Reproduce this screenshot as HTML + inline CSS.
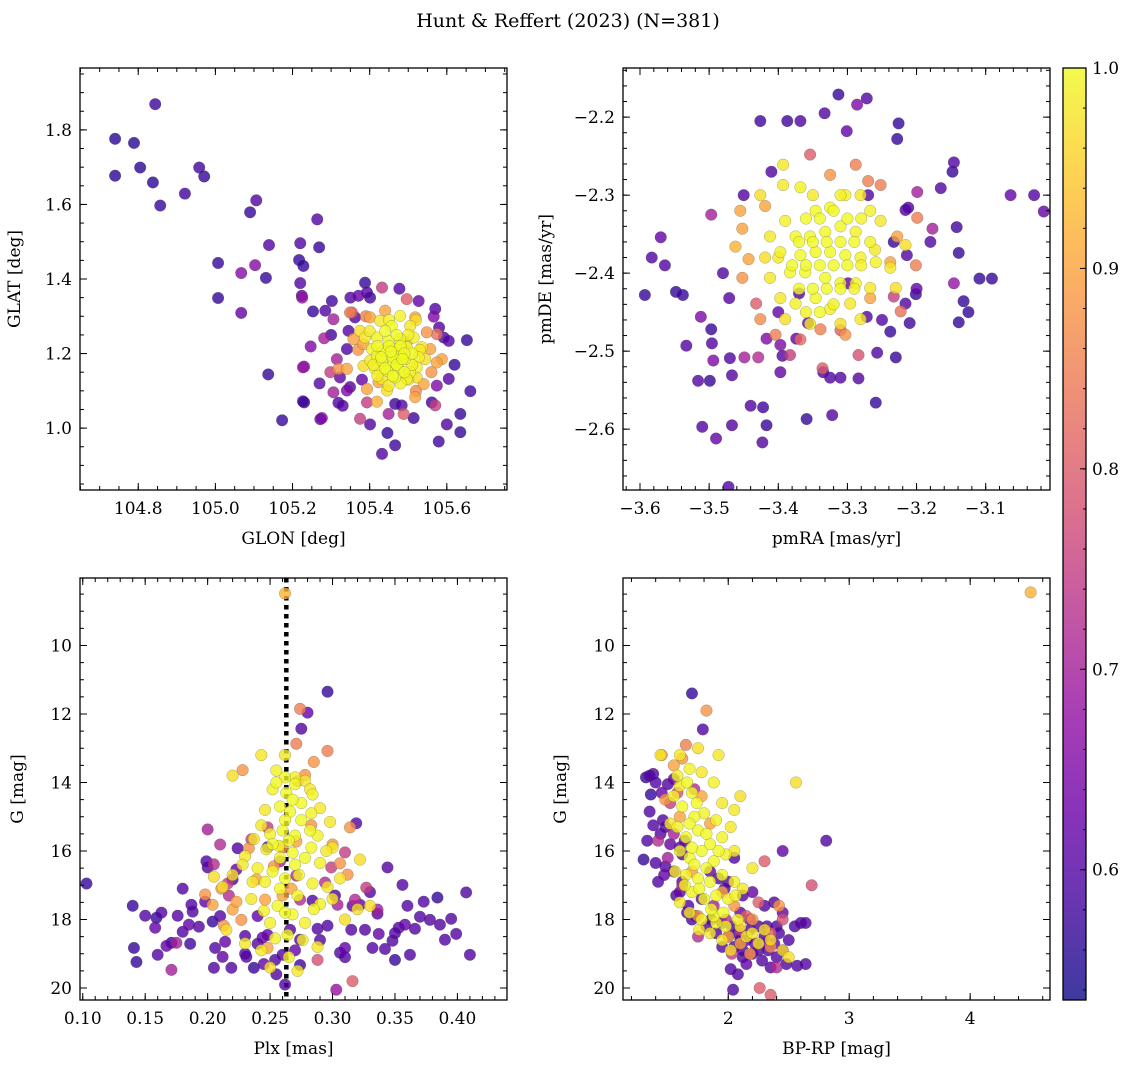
<!DOCTYPE html>
<html><head><meta charset="utf-8">
<style>
html,body{margin:0;padding:0;background:#fff;}
svg{display:block;font-family:"DejaVu Serif","Liberation Serif",serif;}
</style></head>
<body>
<svg id="fig" width="1136" height="1067" viewBox="0 0 1136 1067" xmlns="http://www.w3.org/2000/svg">
<defs>
<linearGradient id="cbgrad" x1="0" y1="1" x2="0" y2="0">
<stop offset="0" stop-color="#0d0887"/><stop offset="0.1" stop-color="#41049d"/><stop offset="0.2" stop-color="#6a00a8"/><stop offset="0.3" stop-color="#8f0da4"/><stop offset="0.4" stop-color="#b12a90"/><stop offset="0.5" stop-color="#cc4778"/><stop offset="0.6" stop-color="#e16462"/><stop offset="0.7" stop-color="#f2844b"/><stop offset="0.8" stop-color="#fca636"/><stop offset="0.9" stop-color="#fcce25"/><stop offset="1" stop-color="#f0f921"/>
</linearGradient>
</defs>
<text x="568" y="27" text-anchor="middle" font-size="19">Hunt &amp; Reffert (2023) (N=381)</text>
</svg>
<script>
// ---- data: [x, y, membership probability] ----
const glonGlat = [
[104.740,1.776,.56],[104.740,1.677,.56],[104.789,1.765,.56],[104.805,1.699,.56],[104.844,1.869,.58],[104.838,1.659,.56],[104.857,1.597,.57],[104.921,1.629,.58],[104.958,1.699,.58],[104.971,1.675,.57],[105.007,1.443,.57],[105.007,1.349,.57],[105.090,1.579,.57],[105.106,1.611,.6],[105.067,1.416,.66],[105.067,1.309,.62],[105.103,1.437,.66],[105.139,1.491,.6],[105.131,1.403,.57],[105.137,1.144,.57],[105.173,1.021,.57],[105.220,1.496,.6],[105.217,1.451,.57],[105.220,1.389,.6],[105.264,1.560,.6],[105.269,1.485,.57],[105.230,1.165,.68],[105.230,1.069,.57],[105.272,1.024,.62],[105.225,1.350,.68],
[105.388,1.390,.57],[105.393,1.364,.6],[105.371,1.355,.62],[105.401,1.350,.58],[105.432,1.377,.75],[105.477,1.374,.6],[105.496,1.346,.8],[105.527,1.341,.62],[105.302,1.341,.58],[105.253,1.313,.57],[105.285,1.315,.6],[105.306,1.292,.7],[105.354,1.310,.8],[105.345,1.261,.6],[105.362,1.297,.6],[105.566,1.299,.65],[105.592,1.243,.6],[105.605,1.234,.6],[105.652,1.236,.57],[105.247,1.219,.65],[105.282,1.241,.7],[105.341,1.212,.6],[105.315,1.185,.7],[105.227,1.163,.68],[105.298,1.150,.75],[105.323,1.136,.62],[105.349,1.110,.6],[105.341,1.101,.65],[105.306,1.096,.7],[105.574,1.114,.65],[105.605,1.132,.6],[105.661,1.099,.58],[105.227,1.072,.58],[105.319,1.068,.6],[105.393,1.069,.75],[105.276,1.027,.65],[105.375,1.025,.75],[105.401,1.010,.6],[105.449,1.038,.7],[105.466,1.065,.58],[105.483,1.061,.6],[105.514,1.027,.58],[105.488,1.038,.8],[105.561,1.069,.58],[105.570,1.061,.75],[105.635,1.038,.57],[105.635,0.989,.57],[105.579,0.964,.58],[105.446,0.987,.57],[105.466,0.954,.58],[105.432,0.931,.6],[105.228,1.435,.57],[105.224,1.355,.6],
[105.349,1.310,.85],[105.401,1.297,.9],[105.440,1.315,.9],[105.518,1.297,.9],[105.548,1.257,.88],[105.574,1.252,.83],[105.358,1.239,.9],[105.384,1.225,.9],[105.557,1.212,.9],[105.587,1.185,.9],[105.574,1.176,.9],[105.319,1.159,.88],[105.341,1.159,.9],[105.393,1.105,.9],[105.419,1.071,.92],[105.518,1.083,.9],[105.540,1.118,.9],[105.423,1.123,.9],[105.496,1.230,.92],
[105.479,1.301,.99],[105.427,1.288,.98],[105.457,1.274,1],[105.505,1.274,.98],[105.375,1.261,.97],[105.388,1.243,.98],[105.419,1.243,.99],[105.449,1.234,1],[105.479,1.239,1],[105.514,1.243,.99],[105.535,1.217,.98],[105.406,1.212,.99],[105.436,1.208,1],[105.466,1.212,1],[105.496,1.217,1],[105.527,1.190,.99],[105.401,1.181,.98],[105.432,1.181,1],[105.462,1.176,1],[105.492,1.185,1],[105.522,1.163,.99],[105.414,1.159,.99],[105.445,1.154,1],[105.475,1.159,1],[105.505,1.150,.99],[105.432,1.132,.98],[105.466,1.136,1],[105.496,1.132,.99],[105.449,1.114,.98],[105.445,1.101,.97],[105.522,1.136,.97],[105.384,1.167,.97],[105.544,1.185,.97],[105.479,1.194,1],[105.419,1.194,.99],
[105.44,1.26,1],[105.47,1.25,1],[105.50,1.25,.99],[105.42,1.22,1],[105.45,1.22,1],[105.48,1.22,1],[105.51,1.20,1],[105.43,1.19,1],[105.46,1.19,1],[105.49,1.20,1],[105.51,1.17,.99],[105.44,1.16,1],[105.47,1.17,1],[105.49,1.15,1],[105.46,1.14,1],[105.48,1.12,.99],[105.42,1.14,.99],[105.53,1.21,.98],[105.40,1.26,.98],[105.52,1.29,.97],[105.45,1.29,.99],[105.41,1.17,.99],[105.50,1.13,.98],[105.455,1.205,1],[105.485,1.185,1],
[105.37,1.21,.88],[105.56,1.15,.88],[105.52,1.10,.86],[105.39,1.30,.85],[105.58,1.27,.6],[105.30,1.25,.58],[105.33,1.06,.6],[105.60,1.01,.6],[105.38,1.13,.62],[105.57,1.32,.6],[105.35,1.35,.6],[105.62,1.17,.57],[105.27,1.12,.6]
];
const pmraPmde = [
[-3.313,-2.171,.57],[-3.272,-2.176,.6],[-3.333,-2.195,.6],[-3.286,-2.184,.65],[-3.301,-2.218,.62],[-3.387,-2.205,.58],[-3.426,-2.205,.58],[-3.368,-2.205,.6],[-3.226,-2.208,.57],[-3.228,-2.228,.57],[-3.016,-2.321,.62],[-3.030,-2.300,.6],[-3.064,-2.300,.62],[-3.146,-2.258,.6],[-3.148,-2.270,.57],[-3.165,-2.291,.6],[-3.199,-2.296,.7],[-3.216,-2.319,.6],[-3.142,-2.341,.58],[-3.139,-2.374,.57],[-3.109,-2.407,.57],[-3.091,-2.407,.57],[-3.146,-2.413,.68],[-3.139,-2.463,.57],[-3.125,-2.450,.57],[-3.132,-2.436,.57],[-3.177,-2.343,.7],[-3.212,-2.316,.6],[-3.233,-2.360,.57],[-3.214,-2.377,.6],[-3.201,-2.427,.57],[-3.216,-2.439,.6],[-3.210,-2.464,.58],[-3.238,-2.475,.57],[-3.230,-2.508,.57],[-3.257,-2.502,.6],[-3.259,-2.566,.57],[-3.284,-2.535,.6],[-3.322,-2.582,.6],[-3.359,-2.587,.57],[-3.397,-2.492,.65],[-3.422,-2.572,.58],[-3.417,-2.595,.57],[-3.423,-2.617,.6],[-3.472,-2.674,.6],[-3.510,-2.597,.6],[-3.490,-2.612,.62],[-3.467,-2.595,.6],[-3.499,-2.538,.57],[-3.496,-2.490,.6],[-3.494,-2.512,.65],[-3.512,-2.456,.65],[-3.497,-2.472,.57],[-3.516,-2.538,.6],[-3.533,-2.493,.6],[-3.538,-2.428,.57],[-3.497,-2.325,.7],[-3.570,-2.354,.62],[-3.583,-2.380,.6],[-3.593,-2.428,.57],[-3.564,-2.390,.6],[-3.548,-2.424,.57],[-3.471,-2.432,.6],[-3.449,-2.508,.7],[-3.429,-2.508,.72],[-3.470,-2.509,.6],[-3.467,-2.531,.6],[-3.374,-2.484,.62],[-3.325,-2.534,.6],[-3.310,-2.534,.6],[-3.417,-2.484,.65],[-3.397,-2.527,.62],[-3.335,-2.527,.6],[-3.357,-2.464,.62],[-3.394,-2.506,.6],[-3.370,-2.426,.6],[-3.310,-2.473,.8],[-3.299,-2.413,.62],[-3.272,-2.456,.6],[-3.233,-2.430,.75],
[-3.393,-2.261,.98],[-3.393,-2.287,.98],[-3.368,-2.290,.99],[-3.346,-2.320,1],[-3.325,-2.316,1],[-3.303,-2.300,.99],[-3.281,-2.300,.98],[-3.267,-2.320,.99],[-3.252,-2.333,.98],[-3.390,-2.333,.99],[-3.412,-2.353,.98],[-3.375,-2.353,1],[-3.354,-2.353,1],[-3.332,-2.347,1],[-3.310,-2.340,1],[-3.288,-2.347,.99],[-3.267,-2.360,.99],[-3.419,-2.380,.97],[-3.397,-2.373,.99],[-3.368,-2.377,1],[-3.346,-2.373,1],[-3.325,-2.373,1],[-3.303,-2.377,1],[-3.281,-2.380,.99],[-3.259,-2.386,.99],[-3.238,-2.393,.98],[-3.412,-2.406,.98],[-3.383,-2.399,1],[-3.361,-2.399,1],[-3.332,-2.406,1],[-3.310,-2.413,.99],[-3.288,-2.413,.99],[-3.267,-2.419,.98],[-3.397,-2.432,.98],[-3.375,-2.439,.99],[-3.346,-2.432,1],[-3.325,-2.446,.99],[-3.296,-2.439,.98],[-3.390,-2.459,.97],[-3.354,-2.465,.98],[-3.310,-2.465,.97],[-3.281,-2.459,.98],[-3.230,-2.419,.97],[-3.216,-2.364,.97],[-3.426,-2.300,.97],
[-3.455,-2.320,.9],[-3.452,-2.343,.9],[-3.443,-2.382,.9],[-3.452,-2.406,.88],[-3.426,-2.459,.87],[-3.404,-2.479,.85],[-3.368,-2.485,.82],[-3.339,-2.472,.85],[-3.303,-2.479,.88],[-3.267,-2.432,.9],[-3.238,-2.386,.9],[-3.228,-2.353,.9],[-3.252,-2.287,.85],[-3.288,-2.261,.85],[-3.325,-2.274,.88],[-3.354,-2.248,.8],[-3.270,-2.282,.85],[-3.201,-2.390,.85],[-3.223,-2.449,.83],[-3.284,-2.505,.78],[-3.336,-2.522,.8],[-3.432,-2.439,.8],[-3.462,-2.366,.92],[-3.419,-2.314,.9],[-3.383,-2.505,.75],[-3.199,-2.329,.85],
[-3.36,-2.33,1],[-3.34,-2.33,1],[-3.32,-2.32,1],[-3.30,-2.33,1],[-3.37,-2.36,1],[-3.35,-2.36,1],[-3.33,-2.36,1],[-3.31,-2.36,1],[-3.29,-2.36,1],[-3.38,-2.39,1],[-3.36,-2.39,1],[-3.34,-2.39,1],[-3.32,-2.39,1],[-3.30,-2.39,1],[-3.28,-2.39,.99],[-3.37,-2.42,1],[-3.35,-2.42,1],[-3.33,-2.42,1],[-3.31,-2.42,1],[-3.29,-2.42,.99],[-3.36,-2.45,.99],[-3.34,-2.45,1],[-3.32,-2.44,.99],[-3.40,-2.38,.98],[-3.26,-2.37,.98],[-3.35,-2.30,.98],[-3.31,-2.30,.99],[-3.28,-2.33,.99],
[-3.45,-2.30,.6],[-3.18,-2.36,.6],[-3.40,-2.45,.62],[-3.25,-2.46,.6],[-3.48,-2.40,.6],[-3.20,-2.42,.62],[-3.44,-2.57,.6],[-3.27,-2.30,.6],[-3.41,-2.27,.6]
];
const plxG = [
[0.103,16.95,.57],[0.140,17.60,.57],[0.141,18.83,.57],[0.143,19.24,.57],[0.150,17.89,.6],[0.158,18.24,.62],[0.159,17.95,.57],[0.160,19.03,.6],[0.163,17.80,.6],[0.167,18.77,.62],[0.171,18.68,.57],[0.176,17.89,.6],[0.180,18.36,.6],[0.185,18.15,.62],[0.188,17.77,.6],[0.193,18.21,.6],[0.186,18.71,.58],[0.187,17.57,.6],[0.198,17.48,.62],[0.205,19.41,.6],[0.200,16.48,.6],[0.199,16.30,.6],[0.204,18.06,.57],[0.206,18.83,.6],[0.214,18.65,.62],[0.224,15.92,.6],[0.220,16.83,.6],[0.223,16.54,.62],[0.231,19.09,.6],[0.237,19.41,.57],[0.240,18.71,.6],[0.244,18.53,.62],[0.230,18.48,.6],[0.248,15.89,.6],[0.248,18.45,.62],[0.260,19.03,.6],[0.274,19.33,.58],[0.284,17.45,.6],[0.288,18.27,.6],[0.296,11.35,.57],[0.280,11.96,.62],[0.275,12.43,.6],[0.302,17.30,.6],[0.306,18.97,.6],[0.310,18.83,.62],[0.315,18.30,.6],[0.319,15.19,.6],[0.322,17.57,.62],[0.326,18.30,.6],[0.332,18.83,.6],[0.336,17.83,.6],[0.337,18.42,.62],[0.342,18.86,.6],[0.348,18.62,.6],[0.350,19.18,.57],[0.353,18.24,.6],[0.356,16.99,.6],[0.344,16.48,.6],[0.358,18.15,.62],[0.362,19.03,.6],[0.366,18.27,.6],[0.370,17.92,.6],[0.373,17.48,.6],[0.378,18.01,.6],[0.384,17.36,.57],[0.386,18.15,.6],[0.390,18.59,.6],[0.395,17.98,.6],[0.399,18.42,.6],[0.407,17.21,.6],[0.410,19.03,.6],[0.316,17.60,.62],[0.296,18.18,.6],[0.274,18.59,.6],[0.266,18.30,.6],[0.254,19.18,.6],[0.219,19.41,.6],[0.212,19.09,.62],[0.303,20.05,.68],[0.316,19.80,.8],[0.255,19.60,.6],[0.262,19.90,.6],[0.245,19.30,.62],
[0.175,18.68,.7],[0.200,15.37,.7],[0.205,16.39,.72],[0.210,15.81,.72],[0.216,16.95,.75],[0.217,17.30,.72],[0.235,15.66,.75],[0.248,15.31,.75],[0.258,16.30,.7],[0.271,16.72,.72],[0.294,16.92,.72],[0.299,16.48,.75],[0.310,16.04,.75],[0.318,17.42,.72],[0.327,17.07,.75],[0.336,17.71,.7],[0.304,17.57,.7],[0.288,19.18,.78],[0.274,17.42,.72],[0.171,19.47,.7],
[0.198,17.27,.88],[0.204,17.57,.9],[0.211,17.10,.88],[0.220,17.71,.9],[0.227,18.01,.88],[0.233,15.92,.88],[0.239,16.83,.9],[0.246,17.42,.9],[0.253,16.45,.88],[0.260,17.30,.9],[0.267,17.10,.9],[0.271,12.87,.85],[0.272,13.96,.85],[0.274,11.85,.85],[0.278,13.78,.88],[0.285,13.40,.88],[0.271,15.72,.9],[0.260,15.89,.88],[0.300,15.81,.88],[0.312,16.69,.88],[0.314,15.31,.88],[0.306,16.36,.88],[0.228,13.64,.88],[0.213,18.18,.88],[0.223,17.48,.9],[0.248,18.83,.9],[0.283,15.25,.88],[0.262,8.48,.92],[0.296,13.08,.85],
[0.243,13.20,.98],[0.262,13.20,.98],[0.255,13.65,.99],[0.262,13.85,1],[0.270,13.85,.99],[0.252,14.20,.99],[0.263,14.30,1],[0.270,14.05,1],[0.278,13.95,.98],[0.284,14.35,.99],[0.258,14.70,1],[0.266,14.85,1],[0.275,14.60,1],[0.283,14.90,.99],[0.290,14.75,.98],[0.298,15.15,.98],[0.282,15.40,1],[0.243,15.25,.98],[0.250,15.50,.99],[0.260,15.40,1],[0.270,15.55,1],[0.288,15.55,.99],[0.300,15.90,.98],[0.237,15.65,.98],[0.247,15.95,.99],[0.257,15.85,1],[0.268,16.05,1],[0.278,16.20,1],[0.290,16.35,.99],[0.230,16.15,.98],[0.220,16.70,.97],[0.228,16.40,.98],[0.240,16.50,.99],[0.252,16.60,1],[0.262,16.80,1],[0.273,16.70,1],[0.284,16.95,.99],[0.296,17.05,.98],[0.306,16.80,.98],[0.320,17.70,.97],[0.330,17.60,.97],[0.235,17.40,.98],[0.245,17.75,.99],[0.256,17.60,1],[0.268,17.85,1],[0.278,18.10,.99],[0.264,18.45,1],[0.254,18.55,.99],[0.243,18.90,.98],[0.265,19.10,.99],[0.272,19.50,.98],[0.250,19.40,.97],[0.212,17.05,.97],[0.205,16.75,.97],[0.220,13.80,.97],[0.215,18.30,.97],[0.230,18.70,.98],[0.288,18.80,.98],[0.300,17.40,.98],[0.310,18.00,.97],[0.322,16.25,.97],[0.290,17.55,.99],
[0.255,14.0,1],[0.268,14.5,1],[0.275,15.1,1],[0.262,15.1,1],[0.252,15.8,1],[0.265,15.7,1],[0.283,15.9,1],[0.258,16.2,1],[0.270,16.4,1],[0.246,16.9,.99],[0.258,17.1,1],[0.272,17.3,1],[0.285,17.7,.99],[0.250,18.1,.99],[0.262,17.8,1],[0.276,18.6,.99],[0.295,16.0,.98],[0.236,16.9,.98],[0.282,14.2,.98],[0.246,14.8,.98],
[0.21,17.9,.6],[0.33,17.2,.6],[0.24,17.9,.62],[0.29,18.6,.6],[0.36,17.6,.6],[0.18,17.1,.6],[0.23,19.0,.6],[0.31,19.1,.6],[0.27,18.9,.62],[0.35,18.4,.6]
];
const bprpG = [
[1.30,16.25,.57],[1.32,13.85,.57],[1.38,13.75,.6],[1.36,14.35,.57],[1.35,14.85,.6],[1.38,15.25,.6],[1.40,16.35,.6],[1.42,16.90,.6],[1.47,16.70,.62],[1.48,16.45,.6],[1.44,15.50,.6],[1.46,15.10,.6],[1.52,15.80,.62],[1.55,16.60,.6],[1.57,17.30,.6],[1.60,17.20,.62],[1.62,16.90,.6],[1.66,17.80,.6],[1.70,18.00,.6],[1.50,14.05,.6],[1.55,13.90,.62],[1.60,15.90,.6],[1.62,16.10,.6],[1.64,15.70,.62],[1.67,17.60,.6],[1.73,17.90,.6],[1.78,17.40,.62],[1.82,18.20,.6],[1.86,18.00,.6],[1.90,18.40,.6],[1.95,18.10,.6],[2.00,18.50,.62],[2.03,18.20,.6],[2.05,18.80,.6],[2.08,18.40,.6],[2.10,17.80,.62],[2.12,18.90,.6],[2.15,18.60,.6],[2.18,18.30,.6],[2.20,19.00,.6],[2.22,18.70,.62],[2.25,18.20,.6],[2.28,19.20,.6],[2.30,18.50,.6],[2.33,18.90,.6],[2.35,19.40,.6],[2.38,18.70,.62],[2.40,19.10,.6],[2.42,18.40,.6],[2.45,18.90,.6],[2.48,19.30,.6],[2.50,18.60,.6],[2.02,19.45,.6],[2.08,19.60,.6],[2.04,20.05,.6],[2.15,19.30,.62],[2.30,17.60,.6],[2.38,17.50,.6],[2.45,17.80,.62],[2.55,18.20,.6],[2.60,18.10,.6],[2.12,17.30,.6],[2.20,17.20,.62],[1.92,16.80,.6],[1.97,17.10,.6],[1.85,16.60,.62],[2.00,16.90,.6],[2.05,16.20,.6],[1.70,11.40,.57],[1.79,12.45,.6],[2.81,15.70,.6],[2.45,16.00,.62],[2.64,18.10,.6],[2.57,19.35,.6],[2.64,19.30,.6],[1.35,13.80,.6],[1.45,14.30,.62],
[1.42,15.70,.72],[1.50,16.20,.7],[1.52,14.60,.75],[1.58,14.30,.78],[1.55,15.50,.7],[1.62,17.00,.72],[1.75,18.50,.72],[1.88,17.60,.7],[1.98,18.00,.72],[2.10,18.30,.75],[2.15,17.90,.8],[2.25,17.50,.8],[2.30,16.30,.8],[2.35,18.40,.8],[2.40,19.40,.72],[2.26,20.00,.8],[2.35,20.20,.8],[2.69,17.00,.78],[2.03,19.00,.75],[1.72,14.20,.72],[2.45,18.00,.78],
[4.50,8.45,.92],[1.82,11.90,.88],[1.45,13.20,.88],[1.55,13.50,.9],[1.48,14.50,.88],[1.62,13.30,.88],[1.65,12.90,.85],[1.78,14.40,.9],[1.85,15.20,.9],[1.60,15.00,.9],[1.70,16.60,.9],[1.95,17.20,.9],[2.05,17.60,.88],[2.10,18.70,.9],[2.20,18.00,.88],[2.42,17.60,.88],[2.35,18.80,.87],[1.75,17.90,.88],[2.00,18.50,.9],[2.18,19.00,.88],
[1.44,13.20,.98],[1.60,13.20,.98],[1.75,13.00,.97],[1.92,13.20,.98],[1.58,13.80,.99],[1.68,13.60,.99],[1.78,13.70,.98],[1.88,14.00,.99],[1.95,14.60,.98],[2.05,14.80,.98],[2.10,14.40,.97],[2.56,14.00,.97],[1.55,14.40,.99],[1.62,14.70,1],[1.70,14.30,1],[1.80,14.90,.99],[1.90,15.10,.99],[1.58,15.30,.99],[1.65,15.60,1],[1.75,15.40,1],[1.85,15.80,1],[1.95,15.60,.99],[2.02,15.30,.98],[1.60,16.00,.99],[1.68,16.20,1],[1.78,16.00,1],[1.88,16.30,1],[1.98,16.10,.99],[1.65,16.70,.99],[1.75,16.80,1],[1.85,16.90,1],[1.95,16.70,1],[2.05,16.90,.99],[1.70,17.20,.99],[1.80,17.40,1],[1.90,17.30,1],[2.00,17.40,.99],[2.12,17.10,.98],[1.68,17.80,.98],[1.78,18.00,.99],[1.88,17.90,1],[1.98,18.20,.99],[2.08,18.00,.99],[2.15,18.50,.98],[2.25,18.70,.98],[2.35,18.60,.97],[2.45,18.90,.97],[2.50,19.10,.97],[1.85,18.40,.98],[1.95,18.60,.98],[2.02,18.90,.97],[1.60,17.50,.98],[1.72,15.00,1],[2.20,16.50,.98],[2.05,16.00,.98],[1.52,15.20,.98],[1.56,16.60,.98],[2.30,18.30,.97],
[1.66,14.0,1],[1.74,14.6,1],[1.82,15.5,1],[1.70,15.9,1],[1.82,16.5,1],[1.92,16.0,1],[1.72,16.4,1],[1.64,17.0,1],[1.76,17.1,1],[1.86,17.7,1],[1.96,17.8,1],[2.06,17.3,.99],[1.90,18.1,.99],[2.10,18.2,.98],[2.20,18.4,.98],[1.60,14.1,.98],[1.68,15.2,1],[1.76,18.3,.98],
[2.10,18.6,.6],[2.25,18.9,.6],[2.18,18.0,.62],[2.32,18.2,.6],[2.40,18.2,.6],[1.95,18.8,.6],[2.28,18.7,.62],[1.40,14.0,.6],[1.48,15.3,.6],[1.33,15.7,.6],[2.12,19.1,.6]
];
const meanPlx = [0.263];
const cbTicks = [0.6,0.7,0.8,0.9,1.0];

// ---- helpers ----
const NS = "http://www.w3.org/2000/svg";
const svg = document.getElementById('fig');
function mk(tag, attrs, parent){ const e=document.createElementNS(NS,tag); for(const k in attrs) e.setAttribute(k,attrs[k]); (parent||svg).appendChild(e); return e; }
const stops=[[0,[13,8,135]],[0.1,[65,4,157]],[0.2,[106,0,168]],[0.3,[143,13,164]],[0.4,[177,42,144]],[0.5,[204,71,120]],[0.6,[225,100,98]],[0.7,[242,132,75]],[0.8,[252,166,54]],[0.9,[252,206,37]],[1,[240,249,33]]];
const CMIN=0.535, CMAX=1.0;
function plasma(p){ let t=(p-CMIN)/(CMAX-CMIN); t=Math.max(0,Math.min(1,t)); for(let i=0;i<stops.length-1;i++){ const a=stops[i],b=stops[i+1]; if(t<=b[0]){ const f=(t-a[0])/(b[0]-a[0]); const c=a[1].map((v,j)=>Math.round(v+(b[1][j]-v)*f)); return `rgb(${c[0]},${c[1]},${c[2]})`; } } return 'rgb(240,249,33)'; }
function fmtNum(v,d){ const s=Math.abs(v).toFixed(d); return (v<0?'\u2212':'')+s; }

function makePanel(cfg){
  const {name,x0,x1,y0,y1,xmin,xmax,ymin,ymax,invY} = cfg;
  const sx = v => x0+(v-xmin)/(xmax-xmin)*(x1-x0);
  const sy = invY ? (v => y0+(v-ymin)/(ymax-ymin)*(y1-y0)) : (v => y1-(v-ymin)/(ymax-ymin)*(y1-y0));
  const g = mk('g',{});
  
  
  const clipId='clip-'+name;
  const cp=mk('clipPath',{id:clipId},g); mk('rect',{x:x0,y:y0,width:x1-x0,height:y1-y0},cp);
  const plot=mk('g',{'clip-path':`url(#${clipId})`},g);
  
  
  const tg=mk('g',{stroke:'#000','stroke-width':1},g);
  
  
  function ticks(step,len,axis){
    const lo=axis==='x'?Math.min(xmin,xmax):Math.min(ymin,ymax), hi=axis==='x'?Math.max(xmin,xmax):Math.max(ymin,ymax);
    const out=[];
    for(let k=Math.ceil(lo/step-1e-9);k<=Math.floor(hi/step+1e-9);k++){ const v=k*step; out.push(v);
      if(axis==='x'){ const px=sx(v); mk('line',{x1:px,x2:px,y1:y1,y2:y1-len},tg); mk('line',{x1:px,x2:px,y1:y0,y2:y0+len},tg); }
      else { const py=sy(v); mk('line',{x1:x0,x2:x0+len,y1:py,y2:py},tg); mk('line',{x1:x1,x2:x1-len,y1:py,y2:py},tg); }
    } return out; }
  ticks(cfg.xminor,4,'x'); ticks(cfg.yminor,4,'y');
  const xt=ticks(cfg.xmajor,7,'x'), yt=ticks(cfg.ymajor,7,'y');
  xt.forEach(v=>{ const t=mk('text',{x:sx(v),y:y1+24,'text-anchor':'middle','font-size':17},g); t.textContent=fmtNum(v,cfg.xdec);
    
     });
  yt.forEach(v=>{ const t=mk('text',{x:x0-8,y:sy(v)+6,'text-anchor':'end','font-size':17},g); t.textContent=fmtNum(v,cfg.ydec);
    
     });
  const fr=mk('rect',{x:x0,y:y0,width:x1-x0,height:y1-y0,fill:'none',stroke:'#000','stroke-width':1.3},g);
  
  
  const xl=mk('text',{x:(x0+x1)/2,y:y1+54,'text-anchor':'middle','font-size':17},g); xl.textContent=cfg.xlabel;
  
  
  const yx=x0-cfg.ylabOff, yy=(y0+y1)/2;
  const yl=mk('text',{x:yx,y:yy,'text-anchor':'middle','font-size':17,transform:`rotate(-90 ${yx} ${yy})`},g); yl.textContent=cfg.ylabel;
  
  
  const pts=cfg.data.slice().sort((a,b)=>a[2]-b[2]);
  pts.forEach(d=>{ const c=mk('circle',{cx:sx(d[0]),cy:sy(d[1]),r:5.8,fill:plasma(d[2]),'fill-opacity':0.8,stroke:'rgba(70,70,70,0.45)','stroke-width':0.5},plot);
    
     });
  return {sx,sy,plot};
}

makePanel({name:'glon-glat',x0:80,x1:507,y0:68,y1:490,xmin:104.649,xmax:105.756,ymin:0.834,ymax:1.966,xmajor:0.2,xminor:0.05,ymajor:0.2,yminor:0.05,xdec:1,ydec:1,xlabel:'GLON [deg]',ylabel:'GLAT [deg]',ylabOff:60,data:glonGlat});
makePanel({name:'pmra-pmde',x0:623,x1:1050,y0:68,y1:490,xmin:-3.6246,xmax:-3.007,ymin:-2.678,ymax:-2.137,xmajor:0.1,xminor:0.02,ymajor:0.1,yminor:0.02,xdec:1,ydec:1,xlabel:'pmRA [mas/yr]',ylabel:'pmDE [mas/yr]',ylabOff:72,data:pmraPmde});
const bl=makePanel({name:'plx-g',x0:80,x1:507,y0:578,y1:1000,xmin:0.0978,xmax:0.4397,ymin:8.03,ymax:20.35,invY:true,xmajor:0.05,xminor:0.01,ymajor:2,yminor:0.5,xdec:2,ydec:0,xlabel:'Plx [mas]',ylabel:'G [mag]',ylabOff:57,data:plxG});
makePanel({name:'bprp-g',x0:623,x1:1050,y0:578,y1:1000,xmin:1.13,xmax:4.66,ymin:8.03,ymax:20.35,invY:true,xmajor:1,xminor:0.2,ymajor:2,yminor:0.5,xdec:0,ydec:0,xlabel:'BP-RP [mag]',ylabel:'G [mag]',ylabOff:57,data:bprpG});

meanPlx.forEach(v=>{ const px=bl.sx(v);
  const ln=mk('line',{x1:px,x2:px,y1:578,y2:1000,stroke:'#000','stroke-width':4.5,'stroke-dasharray':'4.5 4.5'});
  bl.plot.insertBefore(ln, bl.plot.firstChild);
  
   });

const cbx0=1063,cbx1=1086,cby0=68,cby1=1000;
const cbg=mk('g',{});


mk('rect',{x:cbx0,y:cby0,width:cbx1-cbx0,height:cby1-cby0,fill:'url(#cbgrad)','fill-opacity':0.8},cbg);
mk('rect',{x:cbx0,y:cby0,width:cbx1-cbx0,height:cby1-cby0,fill:'none',stroke:'#000','stroke-width':1.3},cbg);
const cy=v=>cby1-(v-CMIN)/(CMAX-CMIN)*(cby1-cby0);
for(let k=Math.ceil(CMIN/0.02-1e-9);k<=Math.floor(CMAX/0.02+1e-9);k++){ const py=cy(k*0.02); mk('line',{x1:cbx1,x2:cbx1-3,y1:py,y2:py,stroke:'#000','stroke-width':1},cbg); }
cbTicks.forEach(v=>{ const py=cy(v); mk('line',{x1:cbx1,x2:cbx1-6,y1:py,y2:py,stroke:'#000','stroke-width':1},cbg);
  const t=mk('text',{x:cbx1+6,y:py+6,'font-size':17},cbg); t.textContent=v.toFixed(1);
  
   });
</script>
</body></html>
